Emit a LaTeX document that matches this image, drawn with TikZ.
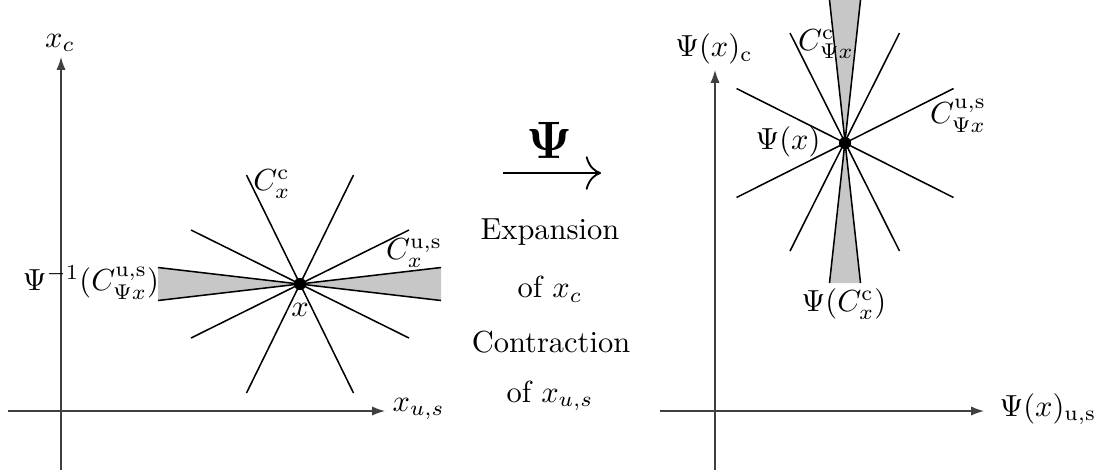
\documentclass[tikz,border=0pt]{standalone}
\usepackage{amsmath,amssymb,bm}
\usetikzlibrary{arrows.meta}
\begin{document}
\begin{tikzpicture}[x=0.328pt,y=-0.328pt,
  axis/.style={draw=black!75,line width=0.45pt,-{Latex[length=4.2pt,width=3pt]}},
  cone/.style={draw=black,line width=0.5pt},
  wedge/.style={fill=black!22},
  lbl/.style={inner sep=0pt,font=\normalsize},
  dotnode/.style={circle,fill=black,inner sep=0pt,minimum size=4pt}]
\useasboundingbox (0,0) rectangle (1101,473);

% ---------------- left diagram ----------------
\coordinate (LyB) at (61,470);
\coordinate (LyT) at (61,57);
\coordinate (LxL) at (8,411);
\coordinate (LxR) at (385,411);
\draw[axis] (LyB) -- (LyT);
\draw[axis] (LxL) -- (LxR);
\node[lbl] (Lxc) at (60,43) {$x_c$};
\node[lbl,anchor=west] (Lxus) at (392,409) {$x_{u,s}$};

\coordinate (X) at (300,284);
\coordinate (Lw1) at (158,267.5);
\coordinate (Lw2) at (158,300.5);
\coordinate (Rw1) at (441,267.5);
\coordinate (Rw2) at (441,300.5);
\fill[wedge] (X) -- (Lw1) -- (Lw2) -- cycle;
\fill[wedge] (X) -- (Rw1) -- (Rw2) -- cycle;
\draw[cone] (Lw1) -- (Rw2);
\draw[cone] (Lw2) -- (Rw1);
\coordinate (Ls1) at (246.5,175);
\coordinate (Ls2) at (353.5,393);
\coordinate (Ls3) at (353.5,175);
\coordinate (Ls4) at (246.5,393);
\draw[cone] (Ls1) -- (Ls2);
\draw[cone] (Ls3) -- (Ls4);
\coordinate (Lm1) at (191,230);
\coordinate (Lm2) at (409,338);
\coordinate (Lm3) at (409,230);
\coordinate (Lm4) at (191,338);
\draw[cone] (Lm1) -- (Lm2);
\draw[cone] (Lm3) -- (Lm4);
\node[dotnode] (Xdot) at (X) {};
\node[lbl] (Lcc) at (272,184) {$C_x^{\mathrm{c}}$};
\node[lbl] (Lcus) at (414,253) {$C_x^{\mathrm{u,s}}$};
\node[lbl] (Lx) at (300,310) {$x$};
\node[lbl] (Linv) at (91,283) {$\Psi^{-1}(C^{\mathrm{u,s}}_{\Psi x})$};

% ---------------- middle ----------------
\node[lbl,font=\LARGE] (Psi) at (550,140) {$\boldsymbol{\Psi}$};
\coordinate (Ma) at (503,173);
\coordinate (Mb) at (601,173);
\draw[line width=0.6pt,-{To[length=5pt,width=11pt]}] (Ma) -- (Mb);
\node[lbl] (T1) at (550,232) {Expansion};
\node[lbl] (T2) at (550,289) {of $x_c$};
\node[lbl] (T3) at (551,342) {Contraction};
\node[lbl] (T4) at (550,396) {of $x_{u,s}$};

% ---------------- right diagram ----------------
\coordinate (RyB) at (715,470);
\coordinate (RyT) at (715,70);
\coordinate (RxL) at (660,411);
\coordinate (RxR) at (984,411);
\draw[axis] (RyB) -- (RyT);
\draw[axis] (RxL) -- (RxR);
\node[lbl] (Rxc) at (714,49) {$\Psi(x)_{\mathrm{c}}$};
\node[lbl,anchor=west] (Rxus) at (999,409) {$\Psi(x)_{\mathrm{u,s}}$};

\coordinate (P) at (845,143);
\coordinate (Tw1) at (829.5,0);
\coordinate (Tw2) at (860.5,0);
\coordinate (Bw1) at (829.5,283);
\coordinate (Bw2) at (860.5,283);
\fill[wedge] (P) -- (Tw1) -- (Tw2) -- cycle;
\fill[wedge] (P) -- (Bw1) -- (Bw2) -- cycle;
\draw[cone] (Tw1) -- (Bw2);
\draw[cone] (Tw2) -- (Bw1);
\coordinate (Rs1) at (790,33);
\coordinate (Rs2) at (899.5,251);
\coordinate (Rs3) at (899.5,33);
\coordinate (Rs4) at (790,251);
\draw[cone] (Rs1) -- (Rs2);
\draw[cone] (Rs3) -- (Rs4);
\coordinate (Rm1) at (736.5,88.5);
\coordinate (Rm2) at (953.5,197.5);
\coordinate (Rm3) at (953.5,88.5);
\coordinate (Rm4) at (736.5,197.5);
\draw[cone] (Rm1) -- (Rm2);
\draw[cone] (Rm3) -- (Rm4);
\node[dotnode] (Pdot) at (P) {};
\node[lbl] (Rcc) at (826,44) {$C^{\mathrm{c}}_{\Psi x}$};
\node[lbl] (Rcus) at (958,116) {$C^{\mathrm{u,s}}_{\Psi x}$};
\node[lbl] (Rpx) at (788,142) {$\Psi(x)$};
\node[lbl] (Rpc) at (844,304) {$\Psi(C^{\mathrm{c}}_x)$};
\end{tikzpicture}
\end{document}
